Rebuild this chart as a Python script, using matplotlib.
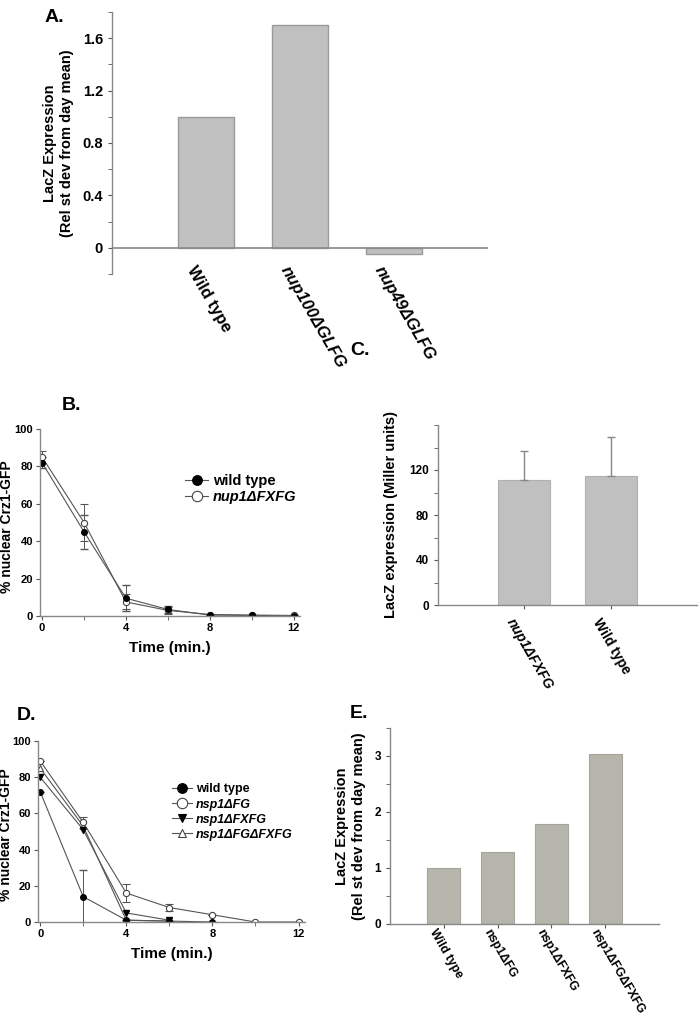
import matplotlib
matplotlib.use('Agg')
import matplotlib.pyplot as plt
from matplotlib.lines import Line2D
import numpy as np

plt.rcParams['font.family'] = ['Liberation Sans', 'DejaVu Sans']
plt.rcParams['font.weight'] = 'bold'

# Panel A data
a_labels = ['Wild type', 'nup100\u0394GLFG', 'nup49\u0394GLFG']
a_values = [1.0, 1.7, -0.05]

# Panel B data (time course)
b_time = [0, 2, 4, 6, 8, 10, 12]
b_wt = [82, 45, 9.5, 3.5, 0.5, 0.3, 0]
b_wt_err = [3, 9, 7, 2, 0, 0, 0]
b_nup1 = [85, 50, 7.5, 3, 0.8, 0.5, 0.3]
b_nup1_err = [3, 10, 4, 2, 0, 0, 0]

# Panel C data
c_labels = ['nup1\u0394FXFG', 'Wild type']
c_values = [111, 115]
c_err = [26, 34]

# Panel D data (time course)
d_time_wt = [0, 2, 4, 6, 8]
d_wt = [72, 14, 1, 0.5, 0]
d_wt_err = [0, 15, 0, 0, 0]
d_time_fg = [0, 2, 4, 6, 8, 10, 12]
d_fg = [89, 55, 16, 8, 4, 0, 0]
d_fg_err = [0, 3, 5, 2, 0, 0, 0]
d_time_fxfg = [0, 2, 4, 6]
d_fxfg = [80, 51, 5, 1]
d_time_both = [0, 2, 4, 6]
d_both = [85, 53, 1, 0.5]

# Panel E data
e_labels = ['Wild type', 'nsp1\u0394FG', 'nsp1\u0394FXFG', 'nsp1\u0394FG\u0394FXFG']
e_values = [1.0, 1.28, 1.78, 3.03]

W, H = 700, 1019
fig = plt.figure(figsize=(7, 10.19), dpi=100)


def px_axes(l, t, r, b):
    return fig.add_axes([l / W, 1 - b / H, (r - l) / W, (b - t) / H])


def style(ax):
    for s in ['top', 'right']:
        ax.spines[s].set_visible(False)
    for s in ['left', 'bottom']:
        ax.spines[s].set_color('#888888')
        ax.spines[s].set_linewidth(1.0)
    ax.tick_params(colors='#555555', labelcolor='black', width=0.8, length=3)


def handle(marker, fill, ms):
    return Line2D([], [], color='#555555', lw=0.8, marker=marker, ms=ms,
                  mfc=fill, mec='black' if fill == 'black' else '#444444', mew=0.8)


axis_gray = '#888888'
line_col = '#555555'

# ---- A ----
axA = px_axes(112, 12, 488, 274)
style(axA)
axA.bar([1, 2, 3], a_values, width=0.6, color='#c0c0c0', edgecolor='#9a9a9a', linewidth=1)
axA.set_xlim(0, 4)
axA.set_ylim(-0.2, 1.8)
axA.set_yticks([0, 0.4, 0.8, 1.2, 1.6])
axA.set_yticklabels(['0', '0.4', '0.8', '1.2', '1.6'])
axA.set_yticks(np.arange(-0.2, 1.81, 0.2), minor=True)
axA.tick_params(axis='y', which='minor', length=3, color='#555555')
axA.tick_params(axis='y', labelsize=10.5)
axA.spines['bottom'].set_visible(False)
axA.axhline(0, color=axis_gray, lw=1.2)
axA.set_xticks([])
for i, lab in enumerate(a_labels):
    axA.text(i + 1 - 0.1, -0.12, lab, rotation=-60, ha='left', va='top',
             rotation_mode='anchor', fontsize=12, fontweight='bold',
             style='normal' if i == 0 else 'italic')
axA.set_ylabel('LacZ Expression\n(Rel st dev from day mean)', fontsize=10.5,
               fontweight='bold', labelpad=6, linespacing=1.3)
fig.text(45 / W, 1 - 22 / H, 'A.', fontsize=14, fontweight='bold')

# ---- B ----
axB = px_axes(40, 429, 300, 616)
style(axB)
axB.errorbar(b_time, b_nup1, yerr=b_nup1_err, color=line_col, lw=0.8, marker='o',
             ms=4.5, mfc='white', mec='#444444', mew=0.8, capsize=3, elinewidth=0.7)
axB.errorbar(b_time, b_wt, yerr=b_wt_err, color=line_col, lw=0.8, marker='o',
             ms=4, mfc='black', mec='black', capsize=3, elinewidth=0.7)
axB.set_xlim(-0.1, 12.3)
axB.set_ylim(0, 100)
axB.set_xticks([0, 4, 8, 12])
axB.set_xticks([2, 6, 10], minor=True)
axB.set_yticks([0, 20, 40, 60, 80, 100])
axB.tick_params(labelsize=8, pad=2)
axB.tick_params(which='minor', length=3, color='#555555')
axB.set_xlabel('Time (min.)', fontsize=11, fontweight='bold', labelpad=6)
axB.set_ylabel('% nuclear Crz1-GFP', fontsize=10, fontweight='bold')
axB.yaxis.set_label_coords(-0.1, 0.48)
legB = axB.legend([handle('o', 'black', 7), handle('o', 'white', 7.5)],
                  ['wild type', 'nup1\u0394FXFG'], loc='upper left',
                  bbox_to_anchor=(0.53, 0.8), frameon=False, fontsize=10.5,
                  handlelength=1.6, handletextpad=0.3, labelspacing=0.15, borderpad=0)
legB.get_texts()[1].set_style('italic')
fig.text(62 / W, 1 - 410 / H, 'B.', fontsize=14, fontweight='bold')

# ---- C ----
axC = px_axes(438, 425, 697, 605)
style(axC)
axC.bar([1, 2], c_values, width=0.6, color='#c0c0c0', edgecolor='#b0b0b0', linewidth=0.8)
axC.errorbar([1, 2], c_values, yerr=[[0, 0], c_err], fmt='none', ecolor='#888888',
             elinewidth=1, capsize=3)
axC.set_xlim(0, 3)
axC.set_ylim(0, 160)
axC.set_yticks([0, 40, 80, 120])
axC.set_yticks(np.arange(0, 161, 20), minor=True)
axC.tick_params(which='minor', length=3, color='#555555')
axC.tick_params(axis='y', labelsize=8.5)
axC.set_xticks([1, 2])
axC.set_xticklabels([])
for i, lab in enumerate(c_labels):
    axC.text(i + 1 - 0.1, -10, lab, rotation=-60, ha='left', va='top',
             rotation_mode='anchor', fontsize=10, fontweight='bold',
             style='italic' if i == 0 else 'normal')
axC.set_ylabel('LacZ expression (Miller units)', fontsize=10.5, fontweight='bold',
               labelpad=8)
fig.text(350 / W, 1 - 355 / H, 'C.', fontsize=14, fontweight='bold')

# ---- D ----
axD = px_axes(38, 741, 305, 922)
style(axD)
axD.errorbar(d_time_fg, d_fg, yerr=d_fg_err, color=line_col, lw=0.8, marker='o', ms=4.5,
             mfc='white', mec='#444444', mew=0.8, capsize=3, elinewidth=0.7)
axD.plot(d_time_both, d_both, color=line_col, lw=0.8, marker='^', ms=4.5,
         mfc='white', mec='#444444', mew=0.8)
axD.plot(d_time_fxfg, d_fxfg, color=line_col, lw=0.8, marker='v', ms=4,
         mfc='black', mec='black')
axD.errorbar(d_time_wt, d_wt, yerr=d_wt_err, color=line_col, lw=0.8, marker='o', ms=4,
             mfc='black', mec='black', capsize=3, elinewidth=0.7)
axD.set_xlim(-0.1, 12.3)
axD.set_ylim(0, 100)
axD.set_xticks([0, 4, 8, 12])
axD.set_xticks([2, 6, 10], minor=True)
axD.set_yticks([0, 20, 40, 60, 80, 100])
axD.tick_params(labelsize=8, pad=2)
axD.tick_params(which='minor', length=3, color='#555555')
axD.set_xlabel('Time (min.)', fontsize=11, fontweight='bold', labelpad=6)
axD.set_ylabel('% nuclear Crz1-GFP', fontsize=10, fontweight='bold')
axD.yaxis.set_label_coords(-0.095, 0.48)
legD = axD.legend([handle('o', 'black', 7), handle('o', 'white', 7.5),
                   handle('v', 'black', 5.5), handle('^', 'white', 6)],
                  ['wild type', 'nsp1\u0394FG', 'nsp1\u0394FXFG',
                   'nsp1\u0394FG\u0394FXFG'],
                  loc='upper left', bbox_to_anchor=(0.48, 0.8), frameon=False,
                  fontsize=9, handlelength=1.6, handletextpad=0.3,
                  labelspacing=0.25, borderpad=0)
for t in legD.get_texts()[1:]:
    t.set_style('italic')
fig.text(17 / W, 1 - 720 / H, 'D.', fontsize=14, fontweight='bold')

# ---- E ----
axE = px_axes(390, 728, 659, 924)
style(axE)
axE.bar([1, 2, 3, 4], e_values, width=0.62, color='#b5b5ab', edgecolor='#a5a59c',
        linewidth=0.8)
axE.set_xlim(0, 5)
axE.set_ylim(0, 3.5)
axE.set_yticks([0, 1, 2, 3])
axE.set_yticks(np.arange(0, 3.51, 0.5), minor=True)
axE.tick_params(which='minor', length=3, color='#555555')
axE.tick_params(axis='y', labelsize=8.5)
axE.set_xticks([1, 2, 3, 4])
axE.set_xticklabels([])
for i, lab in enumerate(e_labels):
    axE.text(i + 1 - 0.12, -0.05, lab, rotation=-60, ha='left', va='top',
             rotation_mode='anchor', fontsize=8.8, fontweight='bold')
axE.set_ylabel('LacZ Expression\n(Rel st dev from day mean)', fontsize=10.5,
               fontweight='bold', labelpad=6, linespacing=1.3)
fig.text(350 / W, 1 - 718 / H, 'E.', fontsize=14, fontweight='bold')

fig.savefig('out.png', dpi=100)
